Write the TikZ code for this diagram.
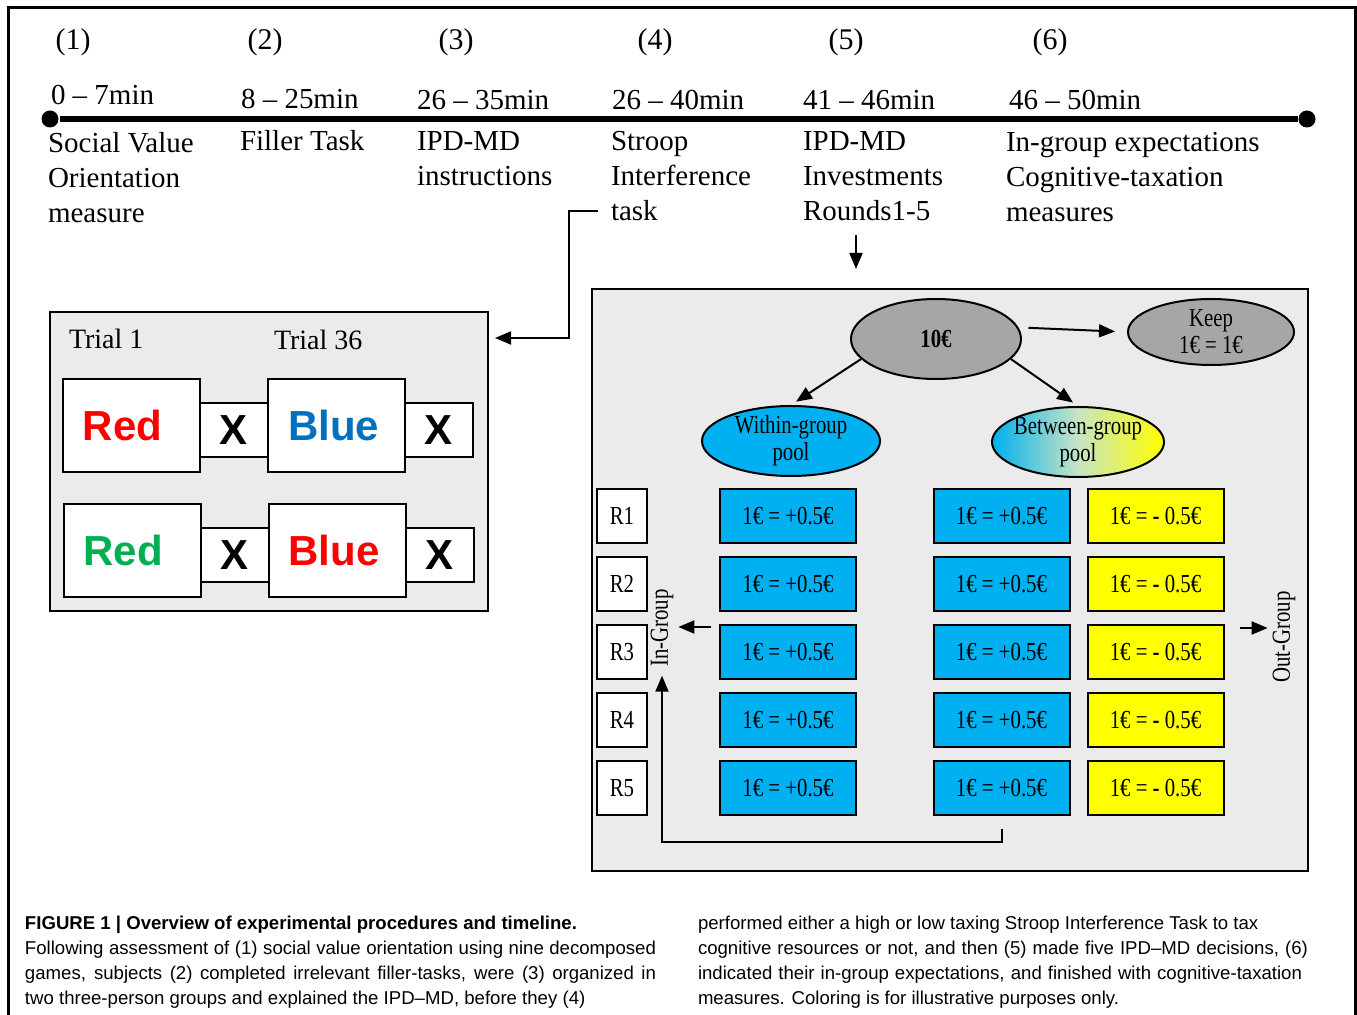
\documentclass[tikz,border=0pt]{standalone}
\usepackage{fontspec}
\setmainfont{Liberation Serif}
\setsansfont{Liberation Sans}
\newfontfamily\condrm[FakeStretch=0.8]{Liberation Serif}
\usetikzlibrary{arrows.meta, positioning, shapes.geometric, calc}
\definecolor{panelgray}{HTML}{EBEBEB}
\definecolor{potgray}{HTML}{A6A6A6}
\definecolor{poolblue}{HTML}{00B0F0}
\definecolor{poolmid}{HTML}{C8E4C4}
\definecolor{poolyellow}{HTML}{FFFF00}
\definecolor{inkred}{HTML}{FF0000}
\definecolor{inkblue}{HTML}{0070C0}
\definecolor{inkgreen}{HTML}{00B050}
\newcommand{\Step}[1]{(#1)}
\newcommand{\Word}[2]{\textcolor{#1}{#2}}
\newcommand{\Gain}{1€ = +0.5€}
\newcommand{\Loss}{\raisebox{-2pt}{1€ = \textbf{-} 0.5€}}
\tikzset{
    panel/.style={draw, fill=panelgray, line width=1pt, inner sep=0pt},
    tick/.style={circle, fill, inner sep=0pt, minimum size=8.5pt},
    stamp/.style={anchor=west, inner sep=0pt, font=\fontsize{14.5}{17.5}\selectfont},
    stage/.style={anchor=north west, inner sep=0pt, align=left, font=\fontsize{14.5}{17.5}\selectfont},
    wordbox/.style={draw, fill=white, outer sep=0pt, inner xsep=10pt, text width=48.5pt, align=left, minimum height=46.5pt, font=\sffamily\bfseries\fontsize{21}{24}\selectfont},
    xbox/.style={draw, fill=white, outer sep=0pt, minimum width=34pt, minimum height=27pt, font=\sffamily\bfseries\fontsize{21}{24}\selectfont},
    pool/.style={ellipse, draw, inner sep=-2pt, align=center, font=\condrm\fontsize{13}{13.5}\selectfont},
    rbox/.style={draw, fill=white, outer sep=0pt, minimum width=25pt, minimum height=27pt, inner sep=0pt, font=\condrm\fontsize{13}{14}\selectfont},
    cell/.style={draw, outer sep=0pt, minimum width=68pt, minimum height=27pt, inner sep=0pt, font=\condrm\fontsize{13}{14}\selectfont},
    incell/.style={cell, fill=poolblue},
    outcell/.style={cell, fill=poolyellow},
    side/.style={rotate=90, inner sep=0pt, font=\condrm\fontsize{13}{14}\selectfont},
    caption/.style={anchor=north west, inner sep=0pt, align=left, font=\sffamily\fontsize{9.3}{12.5}\selectfont},
}
\begin{document}
\begin{tikzpicture}[x=0.5pt, y=-0.5pt, line width=1pt, >={Triangle[length=8pt, width=6.5pt]}]
    \useasboundingbox (0,0) rectangle (1357,1015);
    \draw[line width=1.5pt] (8,1015) -- (8,8) -- (1355,8) -- (1355,1015);

    % timeline
    \node[tick] (start) at (50,119) {};
    \node[tick] (stop) at (1307,119) {};
    \draw[line width=3pt] (start) -- (stop);

    \node[font=\fontsize{15}{17}\selectfont] (n1) at (73,42) {\Step{1}};
    \node[font=\fontsize{15}{17}\selectfont] (n2) at (265,42) {\Step{2}};
    \node[font=\fontsize{15}{17}\selectfont] (n3) at (456,42) {\Step{3}};
    \node[font=\fontsize{15}{17}\selectfont] (n4) at (655,42) {\Step{4}};
    \node[font=\fontsize{15}{17}\selectfont] (n5) at (846,42) {\Step{5}};
    \node[font=\fontsize{15}{17}\selectfont] (n6) at (1050,42) {\Step{6}};

    \node[stamp] (t1) at (50,95) {0 – 7min};
    \node[stamp] (t2) at (240,99) {8 – 25min};
    \node[stamp] (t3) at (416,100) {26 – 35min};
    \node[stamp] (t4) at (611,100) {26 – 40min};
    \node[stamp] (t5) at (802,100) {41 – 46min};
    \node[stamp] (t6) at (1008,100) {46 – 50min};

    \node[stage] (s1) at (47,131) {Social Value\\Orientation\\measure};
    \node[stage] (s2) at (239,129) {Filler Task};
    \node[stage] (s3) at (416,131) {IPD-MD\\instructions};
    \node[stage] (s4) at (610,130) {Stroop\\Interference\\task};
    \node[stage] (s5) at (802,131) {IPD-MD\\Investments\\Rounds1-5};
    \node[stage] (s6) at (1005,131) {In-group expectations\\Cognitive-taxation\\measures};

    % stroop task
    \node[panel, minimum width=219pt, minimum height=149.5pt] (trials) at (269,461.5) {};
    \node[anchor=west, inner sep=0pt, font=\fontsize{14}{16}\selectfont] (tr1) at (68,339) {Trial 1};
    \node[anchor=west, inner sep=0pt, font=\fontsize{14}{16}\selectfont] (tr36) at (273,340) {Trial 36};

    \node[wordbox] (w11) at (131.5,425.5) {\Word{inkred}{Red}};
    \node[xbox, right=0pt of w11, yshift=-2.5pt] (x11) {X};
    \node[wordbox, right=0pt of x11, yshift=2.5pt] (w12) {\Word{inkblue}{Blue}};
    \node[xbox, right=0pt of w12, yshift=-2.5pt] (x12) {X};

    \node[wordbox] (w21) at (132,550.5) {\Word{inkgreen}{Red}};
    \node[xbox, right=0pt of w21, yshift=-2.5pt] (x21) {X};
    \node[wordbox, right=0pt of x21, yshift=2.5pt] (w22) {\Word{inkred}{Blue}};
    \node[xbox, right=0pt of w22, yshift=-2.5pt] (x22) {X};

    \coordinate (tk) at (598,211);
    \coordinate (trin) at (569,338);
    \draw[->, shorten >=3pt] (tk) -- ++(-29,0) |- (trials.east |- trin);

    % investment game
    \node[panel, minimum width=358pt, minimum height=291pt] (game) at (950,580) {};
    \coordinate (rd) at (856,235);
    \draw[->, shorten >=9.5pt] (rd) -- (rd |- game.north);

    \node[pool, fill=potgray, minimum width=85pt, minimum height=40pt, font=\condrm\bfseries\fontsize{13}{14}\selectfont] (pot) at (936,339) {10€};
    \node[pool, fill=potgray, minimum width=83pt, minimum height=33pt] (keep) at (1211,332) {Keep\\1€ = 1€};
    \node[pool, fill=poolblue, minimum width=89pt, minimum height=35pt] (within) at (791,441) {Within-group\\pool};
    \node[pool, left color=poolblue, right color=poolyellow, middle color=poolmid, minimum width=86pt, minimum height=35pt] (between) at (1078,442) {Between-group\\pool};

    \draw[->, shorten <=5pt, shorten >=6pt] (pot.8) -- (keep.west);
    \draw[->, shorten >=3pt] (pot.195) -- (within.north);
    \draw[->, shorten >=3pt] (pot.345) -- (between.north);

    \node[rbox] (r1) at (622,516) {R1};
    \node[rbox, below=7pt of r1] (r2) {R2};
    \node[rbox, below=7pt of r2] (r3) {R3};
    \node[rbox, below=7pt of r3] (r4) {R4};
    \node[rbox, below=7pt of r4] (r5) {R5};

    \node[incell] (in1) at (788,516) {\Gain};
    \node[incell, below=7pt of in1] (in2) {\Gain};
    \node[incell, below=7pt of in2] (in3) {\Gain};
    \node[incell, below=7pt of in3] (in4) {\Gain};
    \node[incell, below=7pt of in4] (in5) {\Gain};

    \node[incell] (bt1) at (1001.5,516) {\Gain};
    \node[incell, below=7pt of bt1] (bt2) {\Gain};
    \node[incell, below=7pt of bt2] (bt3) {\Gain};
    \node[incell, below=7pt of bt3] (bt4) {\Gain};
    \node[incell, below=7pt of bt4] (bt5) {\Gain};

    \node[outcell, right=9pt of bt1] (out1) {\Loss};
    \node[outcell, right=9pt of bt2] (out2) {\Loss};
    \node[outcell, right=9pt of bt3] (out3) {\Loss};
    \node[outcell, right=9pt of bt4] (out4) {\Loss};
    \node[outcell, right=9pt of bt5] (out5) {\Loss};

    \node[side] (ingroup) at (662,628) {In-Group};
    \node[side] (outgroup) at (1284,637) {Out-Group};
    \coordinate (igtail) at (711,627);
    \coordinate (ogtail) at (1240,628);
    \draw[->, shorten >=2pt] (igtail) -- (ingroup.south |- igtail);
    \draw[->, shorten >=2pt] (ogtail) -- (outgroup.north |- ogtail);
    \draw[->, shorten <=7pt, shorten >=4pt] (bt5.south) -- ++(0,27) -| (ingroup.west);

    % caption
    \node[caption] (capl) at (24,915) {\textbf{FIGURE 1 \textbar\ Overview of experimental procedures and timeline.}\\
      \makebox[315.5pt][s]{Following assessment of (1) social value orientation using nine decomposed}\\
      \makebox[315.5pt][s]{games, subjects (2) completed irrelevant filler-tasks, were (3) organized in}\\
      two three-person groups and explained the IPD–MD, before they (4)};
    \node[caption] (capr) at (697,915) {performed either a high or low taxing Stroop Interference Task to tax\\
      \makebox[305pt][s]{cognitive resources or not, and then (5) made five IPD–MD decisions, (6)}\\
      \makebox[302pt][s]{indicated their in-group expectations, and finished with cognitive-taxation}\\
      measures. Coloring is for illustrative purposes only.};
\end{tikzpicture}
\end{document}
